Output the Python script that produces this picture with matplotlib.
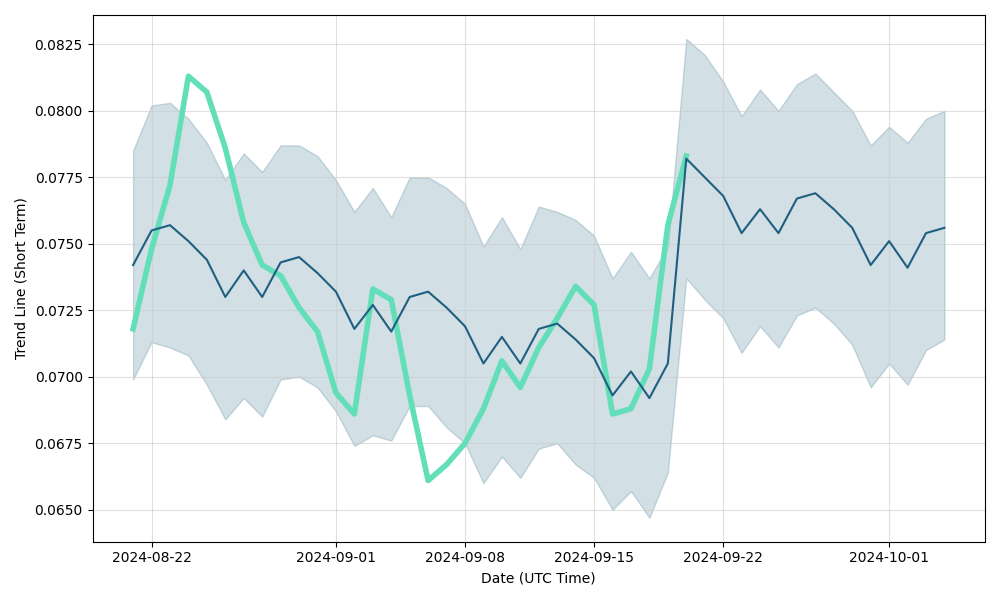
import matplotlib
matplotlib.use('Agg')
import matplotlib.pyplot as plt
import pandas as pd

# daily values, 2024-08-21 .. 2024-10-04
dates = pd.date_range('2024-08-21', '2024-10-04', freq='D')

trend = [0.0742, 0.0755, 0.0757, 0.0751, 0.0744, 0.0730, 0.0740, 0.0730, 0.0743, 0.0745,
         0.0739, 0.0732, 0.0718, 0.0727, 0.0717, 0.0730, 0.0732, 0.0726, 0.0719, 0.0705,
         0.0715, 0.0705, 0.0718, 0.0720, 0.0714, 0.0707, 0.0693, 0.0702, 0.0692, 0.0705,
         0.0782, 0.0775, 0.0768, 0.0754, 0.0763, 0.0754, 0.0767, 0.0769, 0.0763, 0.0756,
         0.0742, 0.0751, 0.0741, 0.0754, 0.0756]

upper = [0.0785, 0.0802, 0.0803, 0.0797, 0.0788, 0.0774, 0.0784, 0.0777, 0.0787, 0.0787,
         0.0783, 0.0774, 0.0762, 0.0771, 0.0760, 0.0775, 0.0775, 0.0771, 0.0765, 0.0749,
         0.0760, 0.0748, 0.0764, 0.0762, 0.0759, 0.0753, 0.0737, 0.0747, 0.0737, 0.0749,
         0.0827, 0.0821, 0.0811, 0.0798, 0.0808, 0.0800, 0.0810, 0.0814, 0.0807, 0.0800,
         0.0787, 0.0794, 0.0788, 0.0797, 0.0800]

lower = [0.0699, 0.0713, 0.0711, 0.0708, 0.0697, 0.0684, 0.0692, 0.0685, 0.0699, 0.0700,
         0.0696, 0.0687, 0.0674, 0.0678, 0.0676, 0.0689, 0.0689, 0.0681, 0.0675, 0.0660,
         0.0670, 0.0662, 0.0673, 0.0675, 0.0667, 0.0662, 0.0650, 0.0657, 0.0647, 0.0664,
         0.0737, 0.0729, 0.0722, 0.0709, 0.0719, 0.0711, 0.0723, 0.0726, 0.0720, 0.0712,
         0.0696, 0.0705, 0.0697, 0.0710, 0.0714]

# actual price, only up to 2024-09-20
price = [0.0718, 0.0748, 0.0772, 0.0813, 0.0807, 0.0786, 0.0758, 0.0742, 0.0738, 0.0726,
         0.0717, 0.0694, 0.0686, 0.0733, 0.0729, 0.0693, 0.0661, 0.0667, 0.0675, 0.0688,
         0.0706, 0.0696, 0.0711, 0.0722, 0.0734, 0.0727, 0.0686, 0.0688, 0.0703, 0.0757,
         0.0783]

fig, ax = plt.subplots(figsize=(10, 6), dpi=100)

ax.fill_between(dates, lower, upper, color='#1f5f7f', alpha=0.2, linewidth=1)
ax.plot(dates[:len(price)], price, color='#62dfb8', linewidth=4)
ax.plot(dates, trend, color='#1f5f7f', linewidth=1.5)

ax.grid(True, color='#cccccc', alpha=0.6)
ax.set_xlabel('Date (UTC Time)')
ax.set_ylabel('Trend Line (Short Term)')

plt.tight_layout()
plt.savefig('out.png')
